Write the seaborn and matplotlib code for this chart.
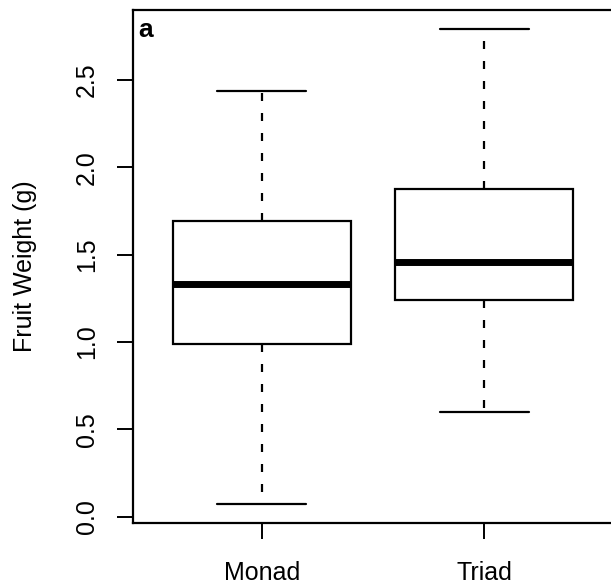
import numpy as np
import pandas as pd
import matplotlib
matplotlib.use("Agg")
import matplotlib.pyplot as plt
import seaborn as sns

# five numbers per group: min, Q1, median, Q3, max
monad_vals = [0.075, 0.99, 1.33, 1.695, 2.435]
triad_vals = [0.597, 1.238, 1.46, 1.876, 2.793]
groups = ["Monad", "Triad"]
y_ticks = [0.0, 0.5, 1.0, 1.5, 2.0, 2.5]

df = pd.DataFrame({
    "group": ["Monad"] * len(monad_vals) + ["Triad"] * len(triad_vals),
    "weight": monad_vals + triad_vals,
})

sns.set_style("white")
plt.rcParams["font.family"] = ["Liberation Sans", "DejaVu Sans"]
plt.rcParams["text.color"] = "black"
plt.rcParams["axes.labelcolor"] = "black"
plt.rcParams["xtick.color"] = "black"
plt.rcParams["ytick.color"] = "black"

fig = plt.figure(figsize=(6.11, 5.88), dpi=100)
ax = fig.add_axes([0.2172, 0.1111, 0.787, 0.872])

sns.boxplot(data=df, x="group", y="weight", order=groups, ax=ax,
            whis=(0, 100), showfliers=False, width=0.8,
            color="white", linecolor="black", linewidth=1.6,
            medianprops=dict(linewidth=5.0, solid_capstyle="butt"),
            whiskerprops=dict(linestyle=(0, (3.6, 5.4))),
            capprops=dict(linestyle="-"))

ax.set_xlim(-0.58, 1.58)
ax.set_ylim(-0.034, 2.90)
ax.set_yticks(y_ticks)
ax.set_yticklabels([f"{t:.1f}" for t in y_ticks])
ax.set_xlabel("")
ax.set_ylabel("Fruit Weight (g)", fontsize=18)
ax.yaxis.set_label_coords(-0.2, 0.5)

for side in ["left", "right", "top", "bottom"]:
    ax.spines[side].set_visible(True)
    ax.spines[side].set_color("black")
    ax.spines[side].set_linewidth(1.6)

ax.tick_params(axis="both", direction="out", length=11.3, width=1.4,
               color="black", labelcolor="black", labelsize=18,
               left=True, bottom=True)
ax.tick_params(axis="x", pad=16)
ax.tick_params(axis="y", pad=13)
for lab in ax.get_yticklabels():
    lab.set_rotation(90)
    lab.set_va("center")

ax.text(0.011, 0.947, "a", transform=ax.transAxes, fontsize=19,
        fontweight="bold", ha="left", va="baseline")

fig.savefig("out.png", dpi=100)
